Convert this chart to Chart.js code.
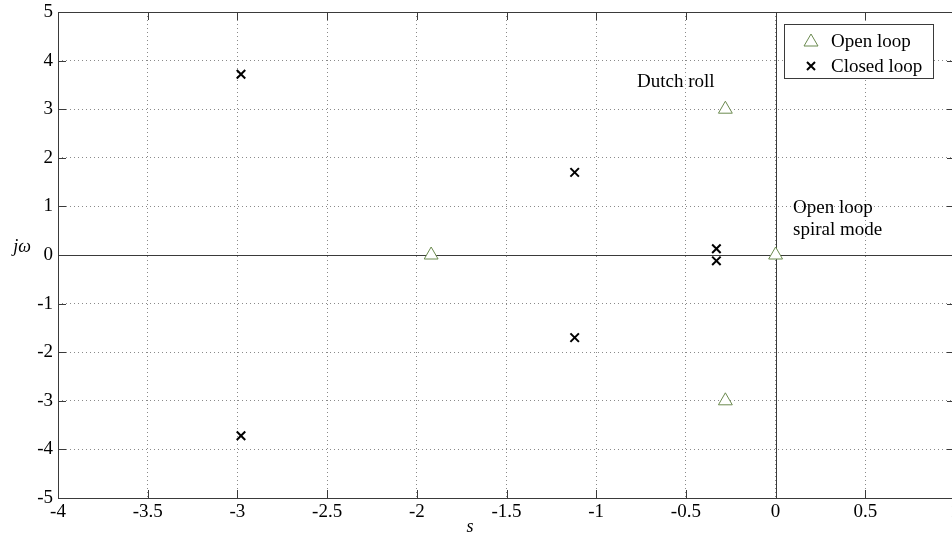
<!DOCTYPE html>
<html>
<head>
<meta charset="utf-8">
<script src="https://cdn.jsdelivr.net/npm/chart.js@4/dist/chart.umd.min.js"></script>
<style>
  html, body { margin: 0; padding: 0; background: #fff; overflow: hidden; }
  #wrap { width: 964px; height: 536px; position: relative; }
</style>
</head>
<body>
<div id="wrap"><canvas id="rootLocus"></canvas></div>
<script>
// pole locations (real part, imaginary part)
const openRe = [-1.92, -0.28, -0.28, 0];
const openIm = [0, 3, -3, 0];
const closedRe = [-2.98, -2.98, -1.12, -1.12, -0.33, -0.33];
const closedIm = [3.72, -3.72, 1.7, -1.7, 0.13, -0.12];

const xTicks = [-4, -3.5, -3, -2.5, -2, -1.5, -1, -0.5, 0, 0.5, 1];
const yTicks = [-5, -4, -3, -2, -1, 0, 1, 2, 3, 4, 5];

const SERIF = "'Liberation Serif', 'Times New Roman', serif";
const OPEN_COLOR = '#6b8a4f';

const toPoints = (re, im) => re.map((v, i) => ({ x: v, y: im[i] }));

// box, inward ticks, zero axes, annotations and legend
const framePlugin = {
    id: 'frame',
    beforeDatasetsDraw(chart) {
        const { ctx, chartArea: a, scales: { x, y } } = chart;
        ctx.save();
        ctx.strokeStyle = '#3a3a3a';
        ctx.lineWidth = 1;

        // zero lines
        const x0 = Math.round(x.getPixelForValue(0)) + 0.5;
        const y0 = Math.round(y.getPixelForValue(0)) + 0.5;
        ctx.beginPath();
        ctx.moveTo(x0, a.top); ctx.lineTo(x0, a.bottom);
        ctx.moveTo(a.left, y0); ctx.lineTo(a.right, y0);
        ctx.stroke();

        // frame
        ctx.strokeRect(Math.round(a.left) + 0.5, Math.round(a.top) + 0.5,
            Math.round(a.right - a.left), Math.round(a.bottom - a.top));

        // inward tick marks
        const len = 8;
        ctx.beginPath();
        xTicks.forEach(v => {
            const px = Math.round(x.getPixelForValue(v)) + 0.5;
            ctx.moveTo(px, a.bottom); ctx.lineTo(px, a.bottom - len);
            ctx.moveTo(px, a.top); ctx.lineTo(px, a.top + len);
        });
        yTicks.forEach(v => {
            const py = Math.round(y.getPixelForValue(v)) + 0.5;
            ctx.moveTo(a.left, py); ctx.lineTo(a.left + len, py);
            ctx.moveTo(a.right, py); ctx.lineTo(a.right - len, py);
        });
        ctx.stroke();
        ctx.restore();
    },
    afterDraw(chart) {
        const { ctx } = chart;
        ctx.save();
        ctx.fillStyle = '#000';
        ctx.textBaseline = 'alphabetic';
        ctx.textAlign = 'left';

        // annotations
        ctx.font = '19px ' + SERIF;
        ctx.fillText('Dutch roll', 637, 87);
        ctx.fillText('Open loop', 793, 213);
        ctx.fillText('spiral mode', 793, 235);

        // axis titles
        ctx.font = 'italic 18px ' + SERIF;
        ctx.textAlign = 'center';
        ctx.fillText('s', 470, 532);
        ctx.fillText('j\u03c9', 22, 252);

        // legend
        const lx = 784, ly = 24, lw = 149, lh = 54;
        ctx.fillStyle = '#fff';
        ctx.fillRect(lx, ly, lw, lh);
        ctx.strokeStyle = '#3a3a3a';
        ctx.lineWidth = 1;
        ctx.strokeRect(lx + 0.5, ly + 0.5, lw, lh);

        // triangle
        ctx.strokeStyle = OPEN_COLOR;
        ctx.beginPath();
        ctx.moveTo(811, 34); ctx.lineTo(818, 46); ctx.lineTo(804, 46); ctx.closePath();
        ctx.stroke();
        // cross
        ctx.strokeStyle = '#000';
        ctx.lineWidth = 2;
        ctx.beginPath();
        ctx.moveTo(807, 62); ctx.lineTo(815, 70);
        ctx.moveTo(815, 62); ctx.lineTo(807, 70);
        ctx.stroke();

        ctx.fillStyle = '#000';
        ctx.textAlign = 'left';
        ctx.font = '19px ' + SERIF;
        ctx.fillText('Open loop', 831, 47);
        ctx.fillText('Closed loop', 831, 72);
        ctx.restore();
    }
};

const ctx = document.getElementById('rootLocus').getContext('2d');
new Chart(ctx, {
    type: 'scatter',
    data: {
        datasets: [
            {
                label: 'Open loop',
                data: toPoints(openRe, openIm),
                pointStyle: 'triangle',
                pointRadius: 8,
                pointBorderWidth: 1,
                borderColor: OPEN_COLOR,
                backgroundColor: '#fff'
            },
            {
                label: 'Closed loop',
                data: toPoints(closedRe, closedIm),
                pointStyle: 'crossRot',
                pointRadius: 6,
                pointBorderWidth: 2,
                borderColor: '#000',
                backgroundColor: '#000'
            }
        ]
    },
    options: {
        responsive: true,
        maintainAspectRatio: false,
        animation: false,
        layout: { padding: { top: 12, right: 6, left: 0, bottom: 0 } },
        plugins: {
            legend: { display: false },
            tooltip: { enabled: false }
        },
        scales: {
            x: {
                type: 'linear',
                min: -4,
                max: 1,
                afterBuildTicks: s => { s.ticks = xTicks.map(v => ({ value: v })); },
                afterFit: s => { s.height = 38; s.paddingLeft = 0; s.paddingRight = 0; },
                grid: { color: '#8a8a8a', lineWidth: 1, drawTicks: false },
                border: { display: false, dash: [1, 3] },
                ticks: {
                    color: '#000',
                    padding: 3,
                    font: { family: SERIF, size: 19 },
                    callback: v => String(v)
                }
            },
            y: {
                type: 'linear',
                min: -5,
                max: 5,
                afterBuildTicks: s => { s.ticks = yTicks.map(v => ({ value: v })); },
                afterFit: s => { s.width = 58; s.paddingTop = 0; s.paddingBottom = 0; },
                grid: { color: '#8a8a8a', lineWidth: 1, drawTicks: false },
                border: { display: false, dash: [1, 3] },
                ticks: {
                    color: '#000',
                    padding: 5,
                    font: { family: SERIF, size: 19 },
                    callback: v => String(v)
                }
            }
        }
    },
    plugins: [framePlugin]
});
</script>
</body>
</html>
